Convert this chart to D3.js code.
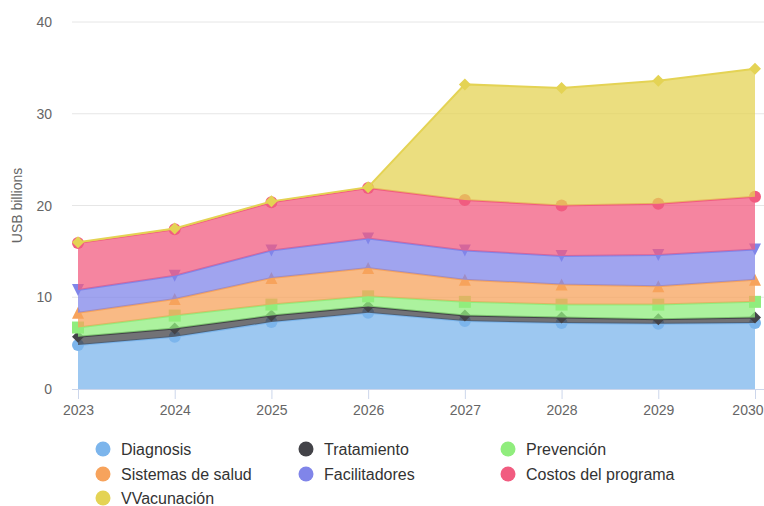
<!DOCTYPE html>
<html>
<head>
<meta charset="utf-8">
<script src="https://cdn.jsdelivr.net/npm/d3@7"></script>
<style>
  body { margin: 0; background: #fff; }
  text { font-family: "Liberation Sans", Arial, sans-serif; }
</style>
</head>
<body>
<div id="chart"></div>
<script>
const years = [2023, 2024, 2025, 2026, 2027, 2028, 2029, 2030]
const seriesNames = ["Diagnosis", "Tratamiento", "Prevención", "Sistemas de salud", "Facilitadores", "Costos del programa", "VVacunación"]
const colors = ["#7cb5ec", "#434348", "#90ed7d", "#f7a35c", "#8085e9", "#f15c80", "#e4d354"]
const symbols = ["circle", "diamond", "square", "triangle", "triangle-down", "circle", "diamond"]

const diagnosis = [4.8, 5.7, 7.3, 8.3, 7.4, 7.2, 7.1, 7.2]
const tratamiento = [0.9, 0.9, 0.7, 0.7, 0.6, 0.6, 0.5, 0.6]
const prevencion = [1.0, 1.4, 1.2, 1.1, 1.5, 1.4, 1.6, 1.7]
const sistemas = [1.6, 1.8, 2.9, 3.1, 2.4, 2.2, 2.0, 2.4]
const facilitadores = [2.5, 2.55, 3.0, 3.2, 3.2, 3.1, 3.4, 3.3]
const costos = [5.1, 5.05, 5.25, 5.5, 5.5, 5.5, 5.6, 5.75]
const vacunacion = [0.1, 0.1, 0.1, 0.1, 12.6, 12.8, 13.4, 13.95]

const yTicks = [0, 10, 20, 30, 40]
const yTitle = "USB billions"

const values = [diagnosis, tratamiento, prevencion, sistemas, facilitadores, costos, vacunacion]
const rows = years.map((yr, i) => {
  const r = {year: yr}
  seriesNames.forEach((n, k) => r[n] = values[k][i])
  return r
})

const width = 764, height = 506
const plotLeft = 72, plotRight = 764, plotTop = 22, plotBottom = 389

const svg = d3.select("#chart").append("svg")
  .attr("width", width)
  .attr("height", height)

const x = d3.scalePoint().domain(years).range([78, 755])
const y = d3.scaleLinear().domain([0, 40]).range([plotBottom, plotTop])

// grid
svg.append("g").selectAll("line")
  .data(yTicks.filter(d => d > 0))
  .enter().append("line")
  .attr("x1", plotLeft).attr("x2", plotRight)
  .attr("y1", d => y(d)).attr("y2", d => y(d))
  .attr("stroke", "#e6e6e6").attr("stroke-width", 1)

// y axis labels
svg.append("g").selectAll("text")
  .data(yTicks)
  .enter().append("text")
  .attr("x", 52)
  .attr("y", d => y(d) + 5)
  .attr("text-anchor", "end")
  .attr("font-size", 14)
  .attr("fill", "#666666")
  .text(d => d)

svg.append("text")
  .attr("transform", `translate(22 ${(plotTop + plotBottom) / 2}) rotate(-90)`)
  .attr("text-anchor", "middle")
  .attr("font-size", 14)
  .attr("fill", "#666666")
  .text(yTitle)

// x axis
const xAxis = d3.axisBottom(x).tickSize(10).tickPadding(6)
const gx = svg.append("g")
  .attr("transform", `translate(0 ${plotBottom})`)
  .call(xAxis)
gx.select(".domain").remove()
gx.selectAll(".tick line").attr("stroke", "#ccd6eb")
gx.selectAll(".tick text")
  .attr("font-family", "Liberation Sans, Arial, sans-serif")
  .attr("font-size", 14)
  .attr("fill", "#666666")
// keep the last label inside the chart, like the original does
gx.selectAll(".tick text")
  .filter(d => d === years[years.length - 1])
  .attr("text-anchor", "end")
  .attr("x", width - 1 - x(years[years.length - 1]))
gx.append("line")
  .attr("x1", plotLeft).attr("x2", plotRight)
  .attr("y1", 0.5).attr("y2", 0.5)
  .attr("stroke", "#ccd6eb")

const stack = d3.stack().keys(seriesNames)
const stacked = stack(rows)

const area = d3.area()
  .x(d => x(d.data.year))
  .y0(d => y(d[0]))
  .y1(d => y(d[1]))

const line = d3.line()
  .x(d => x(d.data.year))
  .y(d => y(d[1]))

function symbolPath(type, cx, cy, r) {
  const x0 = cx - r, y0 = cy - r, w = 2 * r, h = 2 * r
  if (type === "circle") {
    return `M ${cx - r} ${cy} A ${r} ${r} 0 1 0 ${cx + r} ${cy} A ${r} ${r} 0 1 0 ${cx - r} ${cy} Z`
  }
  if (type === "square") return `M ${x0} ${y0} H ${x0 + w} V ${y0 + h} H ${x0} Z`
  if (type === "triangle") return `M ${cx} ${y0} L ${x0 + w} ${y0 + h} L ${x0} ${y0 + h} Z`
  if (type === "triangle-down") return `M ${x0} ${y0} L ${x0 + w} ${y0} L ${cx} ${y0 + h} Z`
  return `M ${cx} ${y0} L ${x0 + w} ${cy} L ${cx} ${y0 + h} L ${x0} ${cy} Z`
}

const seriesGroups = svg.selectAll(".series")
  .data(stacked)
  .enter().append("g")
  .attr("class", "series")

seriesGroups.append("path")
  .attr("d", area)
  .attr("fill", (d, i) => colors[i])
  .attr("fill-opacity", 0.75)

seriesGroups.append("path")
  .attr("d", line)
  .attr("fill", "none")
  .attr("stroke", (d, i) => colors[i])
  .attr("stroke-width", 2)

seriesGroups.each(function(s, i) {
  d3.select(this).selectAll(".marker")
    .data(s)
    .enter().append("path")
    .attr("class", "marker")
    .attr("d", d => symbolPath(symbols[i], x(d.data.year), y(d[1]), 6))
    .attr("fill", colors[i])
})

// legend
const legend = svg.append("g")
const colX = [103, 306, 508]
const rowY = [449, 474, 498]
seriesNames.forEach((n, i) => {
  const cx = colX[i % 3], cy = rowY[Math.floor(i / 3)]
  legend.append("circle")
    .attr("cx", cx).attr("cy", cy).attr("r", 7.5)
    .attr("fill", colors[i])
  legend.append("text")
    .attr("x", cx + 18).attr("y", cy + 5.5)
    .attr("font-size", 16)
    .attr("fill", "#333333")
    .text(n)
})
</script>
</body>
</html>
